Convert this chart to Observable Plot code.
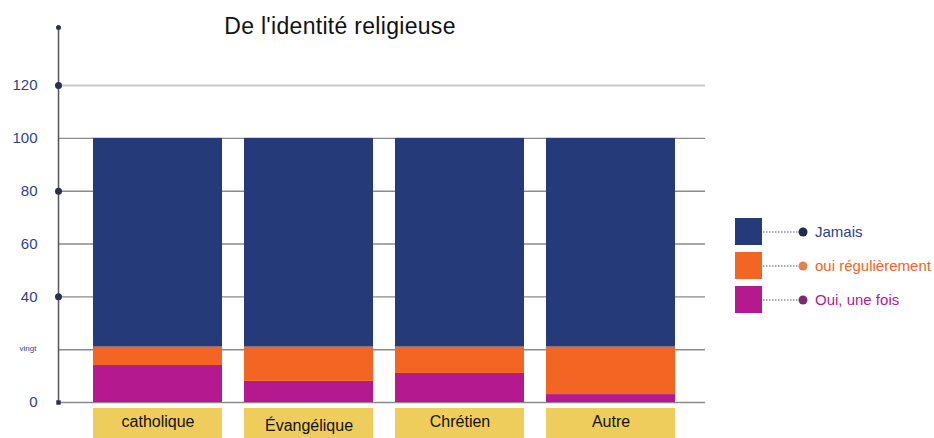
<!DOCTYPE html>
<html>
<head>
<meta charset="utf-8">
<script src="https://cdn.jsdelivr.net/npm/d3@7"></script>
<script src="https://cdn.jsdelivr.net/npm/@observablehq/plot@0.6"></script>
<style>
  body { margin: 0; background: #fff; font-family: "Liberation Sans", Arial, sans-serif; }
  #wrap { position: relative; width: 934px; height: 438px; overflow: hidden; }
  #title { position: absolute; left: 0; width: 680px; top: 13px; text-align: center; font-size: 23px; letter-spacing: 0.3px; color: #111; }
  #legend { position: absolute; left: 730px; top: 212px; }
</style>
</head>
<body>
<div id="wrap">
  <div id="chart"></div>
  <div id="title">De l'identité religieuse</div>
  <div id="legend"></div>
</div>
<script>
// ---- data ----
const categories = ["catholique", "Évangélique", "Chrétien", "Autre"];
const seriesNames = ["Oui, une fois", "oui régulièrement", "Jamais"]; // bottom to top
const ouiUneFois = [14, 8, 11, 3];
const ouiRegulierement = [7, 13, 10, 18];
const jamais = [79, 79, 79, 79];
const seriesColors = ["#b5198f", "#f26522", "#253a78"];
const yTicks = [0, 20, 40, 60, 80, 100, 120];
const yTickLabels = ["0", "vingt", "40", "60", "80", "100", "120"];
const legendOrder = ["Jamais", "oui régulièrement", "Oui, une fois"];
const legendTextColors = ["#2e3f8c", "#f26522", "#b5198f"];
const legendDotColors = ["#1f2a55", "#e2824a", "#7d2a72"];

const seriesValues = [ouiUneFois, ouiRegulierement, jamais];
const table = [];
seriesNames.forEach((s, si) => categories.forEach((c, ci) => table.push({ category: c, series: s, value: seriesValues[si][ci] })));
const tickTable = yTicks.map((v, i) => ({ v, label: yTickLabels[i] }));
const axisNavy = "#2e3f8c";

const plot = Plot.plot({
  width: 934,
  height: 438,
  marginLeft: 58,
  marginRight: 229,
  marginTop: 27,
  marginBottom: 36,
  style: { fontFamily: "'Liberation Sans', Arial, sans-serif", background: "transparent" },
  x: { domain: categories, paddingInner: 0.143, paddingOuter: 0.2045, align: 0.548, axis: null },
  y: { domain: [0, 142], axis: null },
  color: { domain: seriesNames, range: seriesColors },
  marks: [
    Plot.ruleY(yTicks.filter(v => v !== 120), { stroke: "#8a8a8a", strokeWidth: 1.4 }),
    Plot.ruleY(yTicks.filter(v => v === 120), { stroke: "#c9c9c9", strokeWidth: 2 }),
    Plot.barY(table, Plot.stackY({ x: "category", y: "value", fill: "series", order: seriesNames })),
    Plot.frame({ anchor: "left", stroke: "#555", strokeWidth: 1.5 }),
    Plot.dot(yTicks.filter(v => v === 40 || v === 80 || v === 120), { y: d => d, frameAnchor: "left", r: 3.5, fill: "#2a3050", stroke: "none" }),
    Plot.dot([142], { y: d => d, frameAnchor: "left", r: 2.5, fill: "#2a3050", stroke: "none" }),
    Plot.dot([0], { y: d => d, frameAnchor: "left", symbol: "square", r: 2.5, fill: "#2a3050", stroke: "none" }),
    Plot.text(tickTable.filter(d => d.label !== "vingt"), { y: "v", text: "label", frameAnchor: "left", dx: -21, textAnchor: "end", fontSize: 15, fill: axisNavy }),
    Plot.text(tickTable.filter(d => d.label === "vingt"), { y: "v", text: "label", frameAnchor: "left", dx: -22, textAnchor: "end", fontSize: 8, fill: axisNavy, dy: -1 }),
    Plot.text(categories.filter(c => c !== "Évangélique"), { x: d => d, frameAnchor: "bottom", dy: 24, fontSize: 16, fill: "#111" }),
    Plot.text(categories.filter(c => c === "Évangélique"), { x: d => d, frameAnchor: "bottom", dy: 28, fontSize: 16, fill: "#111" })
  ]
});

// yellow boxes behind category labels, placed with the plot's x scale
const xs = plot.scale("x");
const boxes = d3.create("svg:g").attr("aria-label", "label-boxes");
categories.forEach(c => {
  boxes.append("rect")
    .attr("x", xs.apply(c))
    .attr("width", xs.bandwidth)
    .attr("y", 438 - 36 + 6)
    .attr("height", 32)
    .attr("fill", "#efcd5c");
});
const textGroups = plot.querySelectorAll("g[aria-label='text']");
const catGroup = textGroups[textGroups.length - 2];
plot.insertBefore(boxes.node(), catGroup);

document.getElementById("chart").appendChild(plot);

// legend
const lg = d3.select("#legend").append("svg").attr("width", 204).attr("height", 110)
  .style("font-family", "'Liberation Sans', Arial, sans-serif");
legendOrder.forEach((name, i) => {
  const color = seriesColors[seriesNames.indexOf(name)];
  const g = lg.append("g").attr("transform", `translate(5, ${6 + i * 34})`);
  g.append("rect").attr("width", 27).attr("height", 27).attr("fill", color);
  g.append("line").attr("x1", 28).attr("x2", 67).attr("y1", 14).attr("y2", 14)
    .attr("stroke", "#8a8aa0").attr("stroke-width", 1.5).attr("stroke-dasharray", "1.5,1.5");
  g.append("circle").attr("cx", 68).attr("cy", 14).attr("r", 4.5).attr("fill", legendDotColors[i]);
  g.append("text").attr("x", 80).attr("y", 19).attr("font-size", 15).attr("fill", legendTextColors[i]).text(name);
});
</script>
</body>
</html>
